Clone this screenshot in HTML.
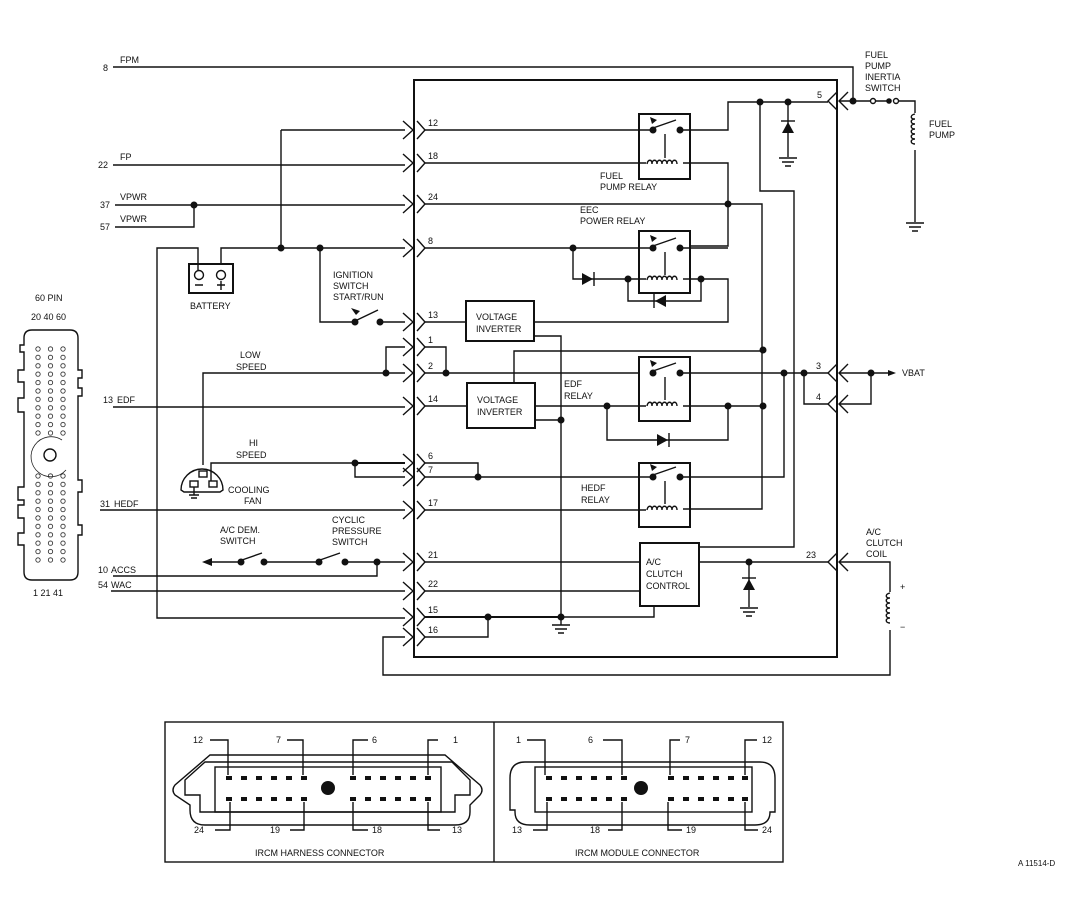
<!DOCTYPE html>
<html><head><meta charset="utf-8"><style>
html,body{margin:0;padding:0;background:#fff;}
svg{display:block;}
text{font-family:"Liberation Sans",sans-serif;font-size:9px;fill:#111;}
.l{stroke:#111;stroke-width:1.4;fill:none;}
.t{stroke:#111;stroke-width:2;fill:none;}
.d{fill:#111;}
</style></head><body>
<svg width="1070" height="900" viewBox="0 0 1070 900" xmlns="http://www.w3.org/2000/svg">
<defs>
<pattern id="pc" x="32" y="345" width="12.5" height="8.4" patternUnits="userSpaceOnUse">
<circle cx="6" cy="4" r="2.2" fill="none" stroke="#222" stroke-width="0.8"/>
</pattern>
<pattern id="pc2" x="32" y="472" width="12.5" height="8.4" patternUnits="userSpaceOnUse">
<circle cx="6" cy="4" r="2.2" fill="none" stroke="#222" stroke-width="0.8"/>
</pattern>
<g id="coil"><path class="l" d="M0,0 c1,-5 5,-5 5,0 c0,-5 5,-5 5,0 c0,-5 5,-5 5,0 c0,-5 5,-5 5,0 c0,-5 5,-5 5,0 c0,-5 5,-5 5,0"/></g>
<g id="vcoil"><path class="l" d="M0,0 c-5,1 -5,5 0,5 c-5,0 -5,5 0,5 c-5,0 -5,5 0,5 c-5,0 -5,5 0,5 c-5,0 -5,5 0,5 c-5,0 -5,5 0,5"/></g>
<g id="pinL"><path class="l" d="M-11,-9 L-1,0 L-11,9 M3,-9 L11,0 L3,9"/></g>
<g id="pinR"><path class="l" d="M0,-9 L-9,0 L0,9 M11,-9 L2,0 L11,9"/></g>
<g id="gnd"><path class="l" d="M-9,0 H9 M-6,4 H6 M-3,8 H3"/></g>
</defs>

<path class="t" d="M414,80 H837 V657 H414 Z"/>

<text x="103" y="71">8</text><text x="120" y="63">FPM</text>
<path class="l" d="M113,67 H853 V101"/>

<g>
<use href="#pinL" x="414" y="130"/><text x="428" y="126">12</text>
<use href="#pinL" x="414" y="163"/><text x="428" y="159">18</text>
<use href="#pinL" x="414" y="204"/><text x="428" y="200">24</text>
<use href="#pinL" x="414" y="248"/><text x="428" y="244">8</text>
<use href="#pinL" x="414" y="322"/><text x="428" y="318">13</text>
<use href="#pinL" x="414" y="347"/><text x="428" y="343">1</text>
<use href="#pinL" x="414" y="373"/><text x="428" y="369">2</text>
<use href="#pinL" x="414" y="406"/><text x="428" y="402">14</text>
<use href="#pinL" x="414" y="463"/><text x="428" y="459">6</text>
<use href="#pinL" x="414" y="477"/><text x="428" y="473">7</text>
<use href="#pinL" x="414" y="510"/><text x="428" y="506">17</text>
<use href="#pinL" x="414" y="562"/><text x="428" y="558">21</text>
<use href="#pinL" x="414" y="591"/><text x="428" y="587">22</text>
<use href="#pinL" x="414" y="617"/><text x="428" y="613">15</text>
<use href="#pinL" x="414" y="637"/><text x="428" y="633">16</text>
</g>
<use href="#pinR" x="837" y="101"/><text x="817" y="98">5</text>
<use href="#pinR" x="837" y="373"/><text x="816" y="369">3</text>
<use href="#pinR" x="837" y="404"/><text x="816" y="400">4</text>
<use href="#pinR" x="837" y="562"/><text x="806" y="558">23</text>

<text x="98" y="168">22</text><text x="120" y="160">FP</text>
<path class="l" d="M113,165 H405"/>
<text x="100" y="208">37</text><text x="120" y="200">VPWR</text>
<text x="100" y="230">57</text><text x="120" y="222">VPWR</text>
<path class="l" d="M115,205 H405 M115,227 H194 V205"/>
<circle class="d" cx="194" cy="205" r="3.5"/>
<path class="l" d="M281,130 H405 M281,130 V248 M221,265 V248 H405"/>
<circle class="d" cx="281" cy="248" r="3.5"/><circle class="d" cx="320" cy="248" r="3.5"/>
<rect x="189" y="264" width="44" height="29" class="t"/>
<circle cx="199" cy="275" r="4.5" class="l"/><circle cx="221" cy="275" r="4.5" class="l"/>
<path class="l" d="M195,285 H203 M217,285 H225 M221,281 V290 M198,270 V248 H157 V618 H405"/>
<text x="190" y="309">BATTERY</text>
<text x="333" y="278">IGNITION</text><text x="333" y="289">SWITCH</text><text x="333" y="300">START/RUN</text>
<path class="l" d="M320,248 V322 H354 M380,322 H405 M355,321 L378,310"/>
<circle class="d" cx="355" cy="322" r="3.5"/><circle class="d" cx="380" cy="322" r="3.5"/>
<path class="d" d="M351,308 L360,311 L356,315 Z"/>
<path class="l" d="M425,322 H466"/>
<path class="l" d="M386,373 V347 H405 M203,465 V373 H405 M425,347 H446 V373 M425,373 H639"/>
<circle class="d" cx="386" cy="373" r="3.5"/><circle class="d" cx="446" cy="373" r="3.5"/>
<text x="240" y="358">LOW</text><text x="236" y="370">SPEED</text>
<text x="103" y="403">13</text><text x="117" y="403">EDF</text>
<path class="l" d="M113,407 H405 M425,406 H467"/>
<path class="l" d="M181,490 A21,21 0 0 1 223,490 L220,492 H184 Z"/>
<rect x="199" y="471" width="8" height="6" class="l"/><rect x="190" y="481" width="8" height="6" class="l"/><rect x="209" y="481" width="8" height="6" class="l"/>
<path class="l" d="M194,487 V495 M189,495 H199 M191,498 H197 M211,481 V463 H405 M355,463 V477 H405"/>
<circle class="d" cx="355" cy="463" r="3.5"/>
<text x="249" y="446">HI</text><text x="236" y="458">SPEED</text>
<text x="228" y="493">COOLING</text><text x="244" y="504">FAN</text>
<path class="t" d="M355,463 H405"/>
<text x="100" y="507">31</text><text x="114" y="507">HEDF</text>
<path class="l" d="M100,510 H405 M425,510 H646"/>
<text x="220" y="533">A/C DEM.</text><text x="220" y="544">SWITCH</text>
<text x="332" y="523">CYCLIC</text><text x="332" y="534">PRESSURE</text><text x="332" y="545">SWITCH</text>
<path class="l" d="M208,562 H241 M264,562 H319 M345,562 H405 M242,560 L262,553 M320,560 L340,553 M377,562 V576 H113"/>
<path class="d" d="M202,562 L212,558 L212,566 Z"/>
<circle class="d" cx="241" cy="562" r="3.5"/><circle class="d" cx="264" cy="562" r="3.5"/>
<circle class="d" cx="319" cy="562" r="3.5"/><circle class="d" cx="345" cy="562" r="3.5"/><circle class="d" cx="377" cy="562" r="3.5"/>
<text x="98" y="573">10</text><text x="111" y="573">ACCS</text>
<text x="98" y="588">54</text><text x="111" y="588">WAC</text>
<path class="l" d="M111,591 H405 M425,562 H640 M425,591 H640"/>
<path class="t" d="M425,617 H561"/>
<path class="l" d="M425,637 H488 V617 M561,617 H654 V606 M405,637 H383 V675 H890 V630"/>
<circle class="d" cx="488" cy="617" r="3.5"/><circle class="d" cx="561" cy="617" r="3.5"/>
<path class="l" d="M561,617 V625"/><use href="#gnd" x="561" y="625"/>

<rect x="639" y="114" width="51" height="65" class="t"/>
<path class="l" d="M425,130 H653 M680,130 H728 V102 H828 M653,128 L676,120 M665,134 V158 M425,163 H646 M683,163 H728 V246 H690"/>
<path class="d" d="M650,117 L657,120 L652,124 Z"/>
<circle class="d" cx="653" cy="130" r="3.5"/><circle class="d" cx="680" cy="130" r="3.5"/>
<use href="#coil" x="647" y="164"/>
<text x="600" y="179">FUEL</text><text x="600" y="190">PUMP RELAY</text>
<circle class="d" cx="760" cy="102" r="3.5"/><circle class="d" cx="788" cy="102" r="3.5"/>
<path class="l" d="M788,102 V157 M760,102 V191 H794 V547 H699"/>
<path class="d" d="M782,133 H794 L788,122 Z"/><path class="l" d="M781,121 H795"/>
<use href="#gnd" x="788" y="158"/>
<circle class="d" cx="728" cy="204" r="3.5"/>
<path class="l" d="M425,204 H762 V509 H683"/>
<text x="580" y="213">EEC</text><text x="580" y="224">POWER RELAY</text>
<rect x="639" y="231" width="51" height="62" class="t"/>
<path class="l" d="M425,248 H653 M680,248 H728 M653,246 L676,238 M665,252 V275 M573,248 V279 H646 M683,279 H728 V322 H534 M628,279 V301 H701 V279"/>
<path class="d" d="M650,235 L657,238 L652,242 Z"/>
<circle class="d" cx="653" cy="248" r="3.5"/><circle class="d" cx="680" cy="248" r="3.5"/>
<circle class="d" cx="573" cy="248" r="3.5"/><circle class="d" cx="628" cy="279" r="3.5"/><circle class="d" cx="701" cy="279" r="3.5"/>
<use href="#coil" x="647" y="280"/>
<path class="d" d="M582,273 V285 L593,279 Z"/><path class="l" d="M594,272 V286"/>
<path class="d" d="M666,295 V307 L655,301 Z"/><path class="l" d="M654,294 V308"/>
<rect x="466" y="301" width="68" height="40" class="t" fill="#fff"/>
<text x="476" y="320">VOLTAGE</text><text x="476" y="332">INVERTER</text>
<path class="l" d="M534,336 H561 V617"/>
<rect x="467" y="383" width="68" height="45" class="t" fill="#fff"/>
<text x="477" y="403">VOLTAGE</text><text x="477" y="415">INVERTER</text>
<path class="l" d="M514,383 V351 H763 M535,406 H646 M535,420 H561 M607,406 V440 H728 V406 M683,406 H763"/>
<circle class="d" cx="561" cy="420" r="3.5"/><circle class="d" cx="607" cy="406" r="3.5"/>
<circle class="d" cx="728" cy="406" r="3.5"/><circle class="d" cx="763" cy="406" r="3.5"/><circle class="d" cx="763" cy="350" r="3.5"/>
<path class="d" d="M657,434 V446 L668,440 Z"/><path class="l" d="M669,433 V447"/>
<text x="564" y="387">EDF</text><text x="564" y="399">RELAY</text>
<rect x="639" y="357" width="51" height="64" class="t"/>
<path class="l" d="M653,371 L676,363 M665,377 V400 M680,373 H828 M804,373 V404 H828"/>
<path class="d" d="M650,360 L657,363 L652,367 Z"/>
<circle class="d" cx="653" cy="373" r="3.5"/><circle class="d" cx="680" cy="373" r="3.5"/>
<use href="#coil" x="647" y="406"/>
<circle class="d" cx="784" cy="373" r="3.5"/><circle class="d" cx="804" cy="373" r="3.5"/>
<path class="l" d="M839,373 H890 M871,373 V404 H839"/>
<path class="d" d="M896,373 L888,370 L888,376 Z"/>
<circle class="d" cx="871" cy="373" r="3.5"/>
<text x="902" y="376">VBAT</text>
<rect x="639" y="463" width="51" height="64" class="t"/>
<path class="l" d="M425,477 H653 M680,477 H784 V373 M653,475 L676,467 M665,481 V504"/>
<path class="d" d="M650,464 L657,467 L652,471 Z"/>
<circle class="d" cx="653" cy="477" r="3.5"/><circle class="d" cx="680" cy="477" r="3.5"/><circle class="d" cx="478" cy="477" r="3.5"/>
<path class="l" d="M425,463 H478 V477"/>
<use href="#coil" x="647" y="510"/>
<text x="581" y="491">HEDF</text><text x="581" y="503">RELAY</text>
<rect x="640" y="543" width="59" height="63" class="t"/>
<text x="646" y="565">A/C</text><text x="646" y="577">CLUTCH</text><text x="646" y="589">CONTROL</text>
<path class="l" d="M699,562 H828 M749,562 V607"/>
<circle class="d" cx="749" cy="562" r="3.5"/>
<path class="d" d="M743,590 H755 L749,579 Z"/><path class="l" d="M742,578 H756"/>
<use href="#gnd" x="749" y="608"/>
<text x="866" y="535">A/C</text><text x="866" y="546">CLUTCH</text><text x="866" y="557">COIL</text>
<path class="l" d="M839,562 H890 V592"/>
<use href="#vcoil" x="890" y="593"/>
<text x="900" y="590">+</text><text x="900" y="630">−</text>
<text x="865" y="58">FUEL</text><text x="865" y="69">PUMP</text><text x="865" y="80">INERTIA</text><text x="865" y="91">SWITCH</text>
<path class="l" d="M839,101 H871 M876,101 H887 M898,101 H915 V113 M915,150 V222"/>
<circle class="d" cx="853" cy="101" r="3.5"/>
<circle cx="873" cy="101" r="2.5" class="l" fill="#fff"/><circle class="d" cx="889" cy="101" r="2.8"/><circle cx="896" cy="101" r="2.5" class="l" fill="#fff"/>
<use href="#vcoil" x="915" y="114"/>
<text x="929" y="127">FUEL</text><text x="929" y="138">PUMP</text>
<use href="#gnd" x="915" y="223"/>

<text x="35" y="301">60 PIN</text>
<text x="31" y="320">20 40 60</text>
<text x="33" y="596">1 21 41</text>
<path class="l" d="M32,330 H70 Q78,330 78,338 V370 H82 V378 H78 V388 H82 V396 H78 V460 V480 H82 V492 H78 V525 H82 V535 H78 V572 Q78,580 70,580 H32 Q24,580 24,572 V545 H18 V533 H24 V518 H18 V505 H24 V500 H18 V487 H24 V412 H18 V398 H24 V382 H18 V370 H24 V352 H20 V345 H24 V338 Q24,330 32,330 Z"/>
<rect x="32" y="345" width="38" height="92" fill="url(#pc)"/>
<rect x="32" y="472" width="38" height="92" fill="url(#pc2)"/>
<circle cx="50" cy="455" r="6" class="l"/>
<path d="M62,440 A20,20 0 1 0 66,470" fill="none" stroke="#222" stroke-width="0.8"/>

<rect x="165" y="722" width="618" height="140" class="l"/>
<path class="l" d="M494,722 V862"/>
<text x="255" y="856">IRCM HARNESS CONNECTOR</text>
<text x="575" y="856">IRCM MODULE CONNECTOR</text>
<path class="l" d="M210,755 H445 L480,785 Q484,790 480,795 L470,805 V812 Q470,825 455,825 H205 Q190,825 190,810 V805 L175,795 Q171,790 175,785 Z"/>
<path class="l" d="M205,762 H452 L470,780 V795 H455 V812 H200 V795 H185 V780 Z"/>
<rect x="215" y="767" width="226" height="45" class="l"/>
<g class="d">
<rect x="226" y="776" width="6" height="4"/><rect x="241" y="776" width="6" height="4"/><rect x="256" y="776" width="6" height="4"/><rect x="271" y="776" width="6" height="4"/><rect x="286" y="776" width="6" height="4"/><rect x="301" y="776" width="6" height="4"/>
<rect x="350" y="776" width="6" height="4"/><rect x="365" y="776" width="6" height="4"/><rect x="380" y="776" width="6" height="4"/><rect x="395" y="776" width="6" height="4"/><rect x="410" y="776" width="6" height="4"/><rect x="425" y="776" width="6" height="4"/>
<rect x="226" y="797" width="6" height="4"/><rect x="241" y="797" width="6" height="4"/><rect x="256" y="797" width="6" height="4"/><rect x="271" y="797" width="6" height="4"/><rect x="286" y="797" width="6" height="4"/><rect x="301" y="797" width="6" height="4"/>
<rect x="350" y="797" width="6" height="4"/><rect x="365" y="797" width="6" height="4"/><rect x="380" y="797" width="6" height="4"/><rect x="395" y="797" width="6" height="4"/><rect x="410" y="797" width="6" height="4"/><rect x="425" y="797" width="6" height="4"/>
<circle cx="328" cy="788" r="7"/>
</g>
<path class="l" d="M210,740 H228 V775 M287,740 H303 V775 M353,775 V740 H368 M428,775 V740 H438 M230,802 V830 H215 M304,802 V830 H290 M353,802 V830 H368 M428,802 V830 H440"/>
<text x="193" y="743">12</text><text x="276" y="743">7</text><text x="372" y="743">6</text><text x="453" y="743">1</text>
<text x="194" y="833">24</text><text x="270" y="833">19</text><text x="372" y="833">18</text><text x="452" y="833">13</text>
<path class="l" d="M525,762 H760 Q775,762 775,778 V812 H770 V812 Q770,825 755,825 H530 Q515,825 515,812 V810 H510 V778 Q510,762 525,762 Z"/>
<rect x="535" y="767" width="217" height="45" class="l"/>
<g class="d">
<rect x="546" y="776" width="6" height="4"/><rect x="561" y="776" width="6" height="4"/><rect x="576" y="776" width="6" height="4"/><rect x="591" y="776" width="6" height="4"/><rect x="606" y="776" width="6" height="4"/><rect x="621" y="776" width="6" height="4"/>
<rect x="668" y="776" width="6" height="4"/><rect x="683" y="776" width="6" height="4"/><rect x="698" y="776" width="6" height="4"/><rect x="713" y="776" width="6" height="4"/><rect x="728" y="776" width="6" height="4"/><rect x="742" y="776" width="6" height="4"/>
<rect x="546" y="797" width="6" height="4"/><rect x="561" y="797" width="6" height="4"/><rect x="576" y="797" width="6" height="4"/><rect x="591" y="797" width="6" height="4"/><rect x="606" y="797" width="6" height="4"/><rect x="621" y="797" width="6" height="4"/>
<rect x="668" y="797" width="6" height="4"/><rect x="683" y="797" width="6" height="4"/><rect x="698" y="797" width="6" height="4"/><rect x="713" y="797" width="6" height="4"/><rect x="728" y="797" width="6" height="4"/><rect x="742" y="797" width="6" height="4"/>
<circle cx="641" cy="788" r="7"/>
</g>
<path class="l" d="M527,740 H545 V775 M603,740 H622 V775 M670,775 V740 H680 M745,775 V740 H757 M547,802 V830 H533 M622,802 V830 H608 M668,802 V830 H682 M745,802 V830 H758"/>
<text x="516" y="743">1</text><text x="588" y="743">6</text><text x="685" y="743">7</text><text x="762" y="743">12</text>
<text x="512" y="833">13</text><text x="590" y="833">18</text><text x="686" y="833">19</text><text x="762" y="833">24</text>

<text x="1018" y="866" style="font-size:8px">A 11514-D</text>
</svg>
</body></html>
